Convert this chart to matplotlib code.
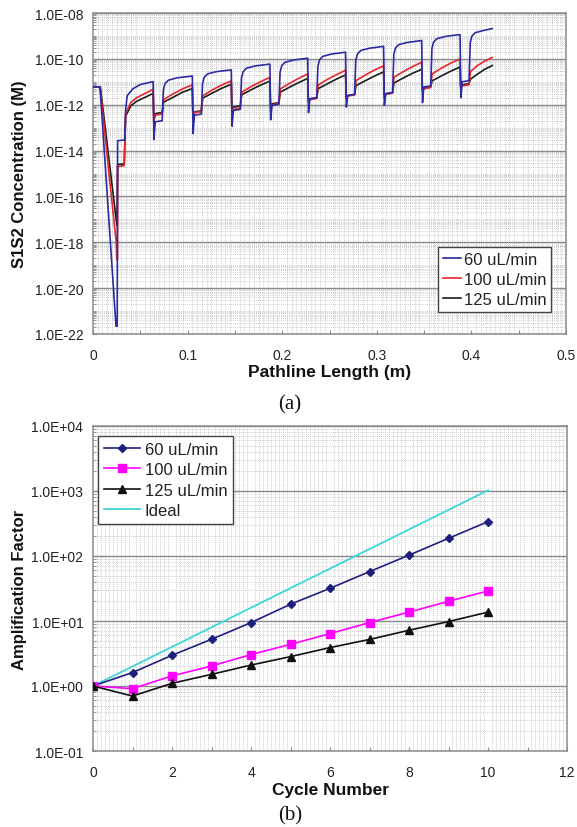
import numpy as np
import matplotlib
matplotlib.use("Agg")
import matplotlib.pyplot as plt
from matplotlib.ticker import MultipleLocator, FixedLocator, LogLocator, FuncFormatter, NullFormatter

plt.rcParams['font.family'] = ['Liberation Sans', 'DejaVu Sans']

# ---------------- (a) concentration along the pathline ----------------
path_60 = [0.0, 0.0074, 0.0243, 0.0256, 0.0260, 0.0335, 0.0345, 0.0362, 0.0423, 0.0500, 0.0636,
           0.0644, 0.0658, 0.0731, 0.0744, 0.0761, 0.0796, 0.0886, 0.1050,
           0.1058, 0.1072, 0.1145, 0.1158, 0.1175, 0.1210, 0.1300, 0.1462,
           0.1470, 0.1484, 0.1557, 0.1570, 0.1587, 0.1622, 0.1712, 0.1870,
           0.1878, 0.1892, 0.1965, 0.1978, 0.1995, 0.2030, 0.2120, 0.2270,
           0.2278, 0.2292, 0.2365, 0.2378, 0.2395, 0.2430, 0.2520, 0.2670,
           0.2678, 0.2692, 0.2765, 0.2778, 0.2795, 0.2830, 0.2920, 0.3072,
           0.3080, 0.3094, 0.3167, 0.3180, 0.3197, 0.3232, 0.3322, 0.3475,
           0.3483, 0.3497, 0.3570, 0.3583, 0.3600, 0.3635, 0.3725, 0.3880,
           0.3888, 0.3902, 0.3975, 0.3988, 0.4005, 0.4040, 0.4130, 0.4220]
conc_60 = [6.0e-12, 6.0e-12, 2.2e-22, 2.2e-22, 2.7e-14, 2.9e-14, 6.3e-13, 2.5e-12, 5.0e-12, 7.6e-12, 1.02e-11,
           3.0e-14, 1.8e-13, 2.0e-13, 4.5e-12, 8.3e-12, 1.17e-11, 1.48e-11, 1.78e-11,
           5.5e-14, 3.5e-13, 3.9e-13, 8.3e-12, 1.55e-11, 2.2e-11, 2.75e-11, 3.3e-11,
           1.15e-13, 5.6e-13, 6.3e-13, 1.48e-11, 2.75e-11, 3.9e-11, 4.9e-11, 5.9e-11,
           2.2e-13, 9.3e-13, 1.05e-12, 2.7e-11, 5.0e-11, 7.1e-11, 8.9e-11, 1.07e-10,
           4.5e-13, 1.8e-12, 2.0e-12, 4.9e-11, 9.1e-11, 1.29e-10, 1.62e-10, 1.95e-10,
           7.9e-13, 2.5e-12, 2.8e-12, 8.7e-11, 1.62e-10, 2.3e-10, 2.9e-10, 3.5e-10,
           9.3e-13, 3.0e-12, 3.4e-12, 1.58e-10, 2.95e-10, 4.2e-10, 5.2e-10, 6.3e-10,
           1.23e-12, 5.9e-12, 6.6e-12, 2.9e-10, 5.4e-10, 7.6e-10, 9.5e-10, 1.15e-9,
           2.0e-12, 1.0e-11, 1.12e-11, 5.2e-10, 9.8e-10, 1.38e-9, 1.74e-9, 2.1e-9]

path_100 = [0.0, 0.0074, 0.0245, 0.0252, 0.0258, 0.0262, 0.0330, 0.0345, 0.0400, 0.0460, 0.0636,
            0.0642, 0.0661, 0.0731, 0.0746, 0.0846, 0.0946, 0.1050,
            0.1056, 0.1075, 0.1145, 0.1160, 0.1260, 0.1360, 0.1462,
            0.1468, 0.1487, 0.1557, 0.1572, 0.1672, 0.1772, 0.1870,
            0.1876, 0.1895, 0.1965, 0.1980, 0.2080, 0.2180, 0.2270,
            0.2276, 0.2295, 0.2365, 0.2380, 0.2480, 0.2580, 0.2670,
            0.2676, 0.2695, 0.2765, 0.2780, 0.2880, 0.2980, 0.3072,
            0.3078, 0.3097, 0.3167, 0.3182, 0.3282, 0.3382, 0.3475,
            0.3481, 0.3500, 0.3570, 0.3585, 0.3685, 0.3785, 0.3880,
            0.3886, 0.3905, 0.3975, 0.3990, 0.4060, 0.4140, 0.4220]
conc_100 = [6.0e-12, 6.0e-12, 1.0e-18, 1.7e-19, 1.7e-19, 2.0e-15, 2.2e-15, 4.0e-13, 1.26e-12, 2.0e-12, 4.7e-12,
            1.8e-13, 3.5e-13, 3.9e-13, 1.66e-12, 2.95e-12, 4.9e-12, 7.4e-12,
            2.1e-13, 4.5e-13, 5.0e-13, 2.45e-12, 4.4e-12, 7.2e-12, 1.1e-11,
            4.0e-13, 6.3e-13, 7.1e-13, 3.5e-12, 6.2e-12, 1.02e-11, 1.55e-11,
            5.6e-13, 1.0e-12, 1.12e-12, 4.9e-12, 8.7e-12, 1.45e-11, 2.2e-11,
            1.32e-12, 1.66e-12, 1.86e-12, 7.2e-12, 1.29e-11, 2.1e-11, 3.2e-11,
            1.8e-12, 2.4e-12, 2.7e-12, 1.12e-11, 2.0e-11, 3.3e-11, 5.0e-11,
            2.1e-12, 2.8e-12, 3.2e-12, 1.58e-11, 2.8e-11, 4.7e-11, 7.1e-11,
            4.2e-12, 5.0e-12, 5.6e-12, 2.2e-11, 4.0e-11, 6.6e-11, 1.0e-10,
            5.4e-12, 6.6e-12, 7.4e-12, 2.8e-11, 5.0e-11, 7.9e-11, 1.15e-10]

path_125 = [0.0, 0.0078, 0.0252, 0.0260, 0.0330, 0.0345, 0.0400, 0.0460, 0.0636,
            0.0642, 0.0661, 0.0731, 0.0746, 0.0846, 0.0946, 0.1050,
            0.1056, 0.1075, 0.1145, 0.1160, 0.1260, 0.1360, 0.1462,
            0.1468, 0.1487, 0.1557, 0.1572, 0.1672, 0.1772, 0.1870,
            0.1876, 0.1895, 0.1965, 0.1980, 0.2080, 0.2180, 0.2270,
            0.2276, 0.2295, 0.2365, 0.2380, 0.2480, 0.2580, 0.2670,
            0.2676, 0.2695, 0.2765, 0.2780, 0.2880, 0.2980, 0.3072,
            0.3078, 0.3097, 0.3167, 0.3182, 0.3282, 0.3382, 0.3475,
            0.3481, 0.3500, 0.3570, 0.3585, 0.3685, 0.3785, 0.3880,
            0.3886, 0.3905, 0.3975, 0.3990, 0.4060, 0.4140, 0.4220]
conc_125 = [6.0e-12, 6.0e-12, 5.5e-18, 2.5e-15, 2.6e-15, 3.2e-13, 8.9e-13, 1.4e-12, 3.1e-12,
            3.6e-13, 4.1e-13, 4.6e-13, 1.29e-12, 2.1e-12, 3.5e-12, 5.1e-12,
            4.3e-13, 4.8e-13, 5.4e-13, 1.95e-12, 3.2e-12, 5.2e-12, 7.8e-12,
            7.1e-13, 7.9e-13, 8.9e-13, 2.7e-12, 4.5e-12, 7.2e-12, 1.07e-11,
            9.8e-13, 1.1e-12, 1.23e-12, 3.5e-12, 5.9e-12, 9.5e-12, 1.41e-11,
            1.62e-12, 1.82e-12, 2.0e-12, 5.0e-12, 8.3e-12, 1.35e-11, 2.0e-11,
            2.2e-12, 2.5e-12, 2.8e-12, 6.8e-12, 1.12e-11, 1.82e-11, 2.7e-11,
            2.7e-12, 3.0e-12, 3.4e-12, 8.9e-12, 1.48e-11, 2.4e-11, 3.5e-11,
            4.8e-12, 5.4e-12, 6.0e-12, 1.1e-11, 1.82e-11, 2.95e-11, 4.4e-11,
            6.6e-12, 7.4e-12, 8.3e-12, 1.29e-11, 2.1e-11, 3.5e-11, 5.1e-11]

flow_labels = ["60 uL/min", "100 uL/min", "125 uL/min"]
conc_ticks = [1e-22, 1e-20, 1e-18, 1e-16, 1e-14, 1e-12, 1e-10, 1e-8]

# ---------------- (b) amplification per cycle ----------------
cycles = [0, 1, 2, 3, 4, 5, 6, 7, 8, 9, 10]
amp_60 = [1.0, 1.61, 2.97, 5.23, 9.45, 18.1, 31.8, 57.5, 103, 187, 338]
amp_100 = [1.0, 0.91, 1.43, 2.03, 3.04, 4.38, 6.4, 9.45, 13.7, 20.1, 29.0]
amp_125 = [1.0, 0.70, 1.10, 1.51, 2.10, 2.83, 3.9, 5.2, 7.2, 9.8, 13.7]
amp_ideal = [1, 2, 4, 8, 16, 32, 64, 128, 256, 512, 1024]
amp_labels = ["60 uL/min", "100 uL/min", "125 uL/min", "Ideal"]
amp_ticks = [1e-1, 1e0, 1e1, 1e2, 1e3, 1e4]

TXT = '#222222'
MAJOR_GRID = '#8a8a8a'
MINOR_GRID = '#bdbdbd'

fig = plt.figure(figsize=(5.77, 8.28), dpi=100)
ax1 = fig.add_axes([93 / 577, 1 - 335 / 828, 473 / 577, 321 / 828])
ax2 = fig.add_axes([93 / 577, 1 - 752 / 828, 474 / 577, 325 / 828])


def sci(v, pos):
    return f"{v:.1E}"


def style_axes(ax):
    for s in ax.spines.values():
        s.set_color('#8c8c8c')
        s.set_linewidth(1.1)
    ax.set_axisbelow(True)
    ax.grid(True, axis='y', which='major', color=MAJOR_GRID, linewidth=1.0, linestyle='-')
    ax.grid(True, axis='both', which='minor', color=MINOR_GRID, linewidth=0.6, linestyle=(0, (1, 1.5)))
    ax.grid(False, axis='x', which='major')
    ax.tick_params(axis='both', which='both', direction='in', colors='#8c8c8c',
                   labelcolor=TXT, labelsize=10)
    ax.tick_params(axis='x', which='major', length=3, pad=10)
    ax.tick_params(axis='x', which='minor', length=0)
    ax.tick_params(axis='y', which='major', length=3, pad=7)
    ax.tick_params(axis='y', which='minor', length=2)
    ax.yaxis.set_minor_formatter(NullFormatter())


# ---- panel (a)
ax1.set_yscale('log')
ax1.plot(path_125, conc_125, color='#1c1c1c', lw=1.2, label=flow_labels[2], zorder=3)
ax1.plot(path_100, conc_100, color='#e8262c', lw=1.2, label=flow_labels[1], zorder=4)
ax1.plot(path_60, conc_60, color='#2b2ba3', lw=1.2, label=flow_labels[0], zorder=5)
ax1.set_xlim(0, 0.5)
ax1.set_ylim(conc_ticks[0], conc_ticks[-1])
ax1.yaxis.set_major_locator(FixedLocator(conc_ticks))
ax1.yaxis.set_major_formatter(FuncFormatter(sci))
ax1.yaxis.set_minor_locator(LogLocator(base=10, subs=np.arange(1, 10), numticks=200))
ax1.xaxis.set_major_locator(MultipleLocator(0.05))
ax1.xaxis.set_minor_locator(MultipleLocator(0.005))
ax1.xaxis.set_major_formatter(FuncFormatter(
    lambda v, p: (f"{round(v, 2):g}" if abs(v * 10 - round(v * 10)) < 1e-6 else "")))
style_axes(ax1)
ax1.set_ylabel("S1S2 Concentration (M)", fontsize=12, fontweight='bold', color='#111111', va='center')
ax1.yaxis.set_label_coords(-0.156, 0.5)
ax1.set_xlabel("Pathline Length (m)", fontsize=12.5, fontweight='bold', color='#111111', va='center')
ax1.xaxis.set_label_coords(0.5, -0.118)

h, l = ax1.get_legend_handles_labels()
order = [2, 1, 0]
leg1 = ax1.legend([h[i] for i in order], [l[i] for i in order], loc='upper left',
                  bbox_to_anchor=(0.729, 0.271), borderaxespad=0, fontsize=12,
                  handlelength=1.1, handletextpad=0.15, labelspacing=0.3, borderpad=0.3,
                  fancybox=False, framealpha=1, edgecolor='#444444')
leg1.get_frame().set_linewidth(1.0)
for t in leg1.get_texts():
    t.set_color(TXT)

# ---- panel (b)
ax2.set_yscale('log')
ax2.plot(cycles, amp_60, color='#1f1f80', lw=1.2, marker='D', ms=4.2, label=amp_labels[0], zorder=4)
ax2.plot(cycles, amp_100, color='#ff00ff', lw=1.2, marker='s', ms=5.2, label=amp_labels[1], zorder=4)
ax2.plot(cycles, amp_125, color='#111111', lw=1.2, marker='^', ms=6, label=amp_labels[2], zorder=5)
ax2.plot(cycles, amp_ideal, color='#3fd6d6', lw=1.3, label=amp_labels[3], zorder=3)
ax2.set_xlim(0, 12)
ax2.set_ylim(amp_ticks[0], amp_ticks[-1])
ax2.yaxis.set_major_locator(FixedLocator(amp_ticks))
ax2.yaxis.set_major_formatter(FuncFormatter(sci))
ax2.yaxis.set_minor_locator(LogLocator(base=10, subs=np.arange(1, 10), numticks=200))
ax2.xaxis.set_major_locator(MultipleLocator(1))
ax2.xaxis.set_minor_locator(MultipleLocator(0.1))
ax2.xaxis.set_major_formatter(FuncFormatter(lambda v, p: (f"{int(round(v))}" if int(round(v)) % 2 == 0 else "")))
style_axes(ax2)
ax2.set_ylabel("Amplification Factor", fontsize=12, fontweight='bold', color='#111111', va='center')
ax2.yaxis.set_label_coords(-0.156, 0.5)
ax2.set_xlabel("Cycle Number", fontsize=12.5, fontweight='bold', color='#111111', va='center')
ax2.xaxis.set_label_coords(0.5, -0.117)

leg2 = ax2.legend(loc='upper left', bbox_to_anchor=(0.0105, 0.969), borderaxespad=0, fontsize=12,
                  handlelength=2.2, handletextpad=0.25, labelspacing=0.32, borderpad=0.35,
                  fancybox=False, framealpha=1, edgecolor='#444444')
leg2.get_frame().set_linewidth(1.0)
for t in leg2.get_texts():
    t.set_color(TXT)

fig.text(290 / 577, 1 - 405 / 828, "(a)", ha='center', va='center', fontsize=15,
         family=['Liberation Serif', 'DejaVu Serif'], color='#111111')
fig.text(290 / 577, 1 - 816 / 828, "(b)", ha='center', va='center', fontsize=15,
         family=['Liberation Serif', 'DejaVu Serif'], color='#111111')

fig.savefig("out.png", dpi=100)
